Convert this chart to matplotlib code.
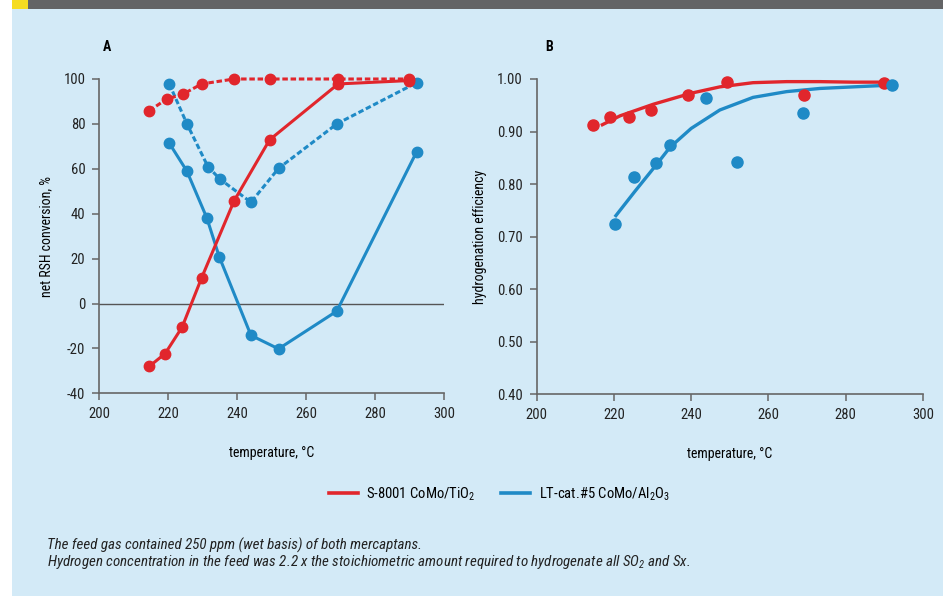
import matplotlib
matplotlib.use("Agg")
import matplotlib.pyplot as plt
from matplotlib import font_manager
from matplotlib.lines import Line2D
from matplotlib.patches import Rectangle

# prefer a narrow sans if one is installed
installed = {f.name for f in font_manager.fontManager.ttflist}
family = 'Liberation Sans'
for cand in ['Liberation Sans Narrow', 'Roboto Condensed', 'Open Sans Condensed']:
    if cand in installed:
        family = cand
        break
narrow = family != 'Liberation Sans'
plt.rcParams['font.family'] = [family, 'DejaVu Sans']
plt.rcParams['mathtext.default'] = 'regular'
plt.rcParams['axes.unicode_minus'] = False

RED = '#e1262c'
BLUE = '#1f8ac6'
BG = '#d3eaf7'
AXC = '#666666'

# panel A: net RSH conversion, %
red_solid_t = [214.5, 219.1, 224.0, 229.7, 239.1, 249.4, 269.3, 289.8]
red_solid_v = [-28.0, -22.3, -10.6, 11.5, 45.7, 72.9, 97.8, 99.3]
red_dash_t = [214.5, 219.5, 224.2, 229.7, 239.1, 249.4, 269.3, 289.8]
red_dash_v = [85.9, 91.0, 93.2, 97.8, 100.0, 100.0, 100.0, 100.0]
blue_solid_t = [220.3, 225.4, 231.2, 234.8, 244.0, 252.0, 268.9, 292.1]
blue_solid_v = [71.4, 59.0, 38.1, 20.8, -14.2, -20.2, -3.4, 67.7]
blue_dash_t = [220.3, 225.4, 231.5, 235.0, 244.0, 252.0, 269.0, 292.1]
blue_dash_v = [97.8, 80.1, 61.0, 55.4, 45.1, 60.2, 80.1, 98.4]

# panel B: hydrogenation efficiency
red_pts_t = [214.5, 219.1, 223.9, 229.7, 239.1, 249.3, 269.2, 289.8]
red_pts_v = [0.913, 0.928, 0.927, 0.941, 0.969, 0.994, 0.969, 0.992]
blue_pts_t = [220.2, 225.2, 231.0, 234.4, 243.8, 251.8, 269.0, 292.1]
blue_pts_v = [0.725, 0.814, 0.840, 0.874, 0.964, 0.843, 0.935, 0.988]
# trend curves
red_fit_t = [217.0, 221.6, 230.2, 240.0, 247.4, 256.0, 264.7, 273.3, 281.9, 290.3]
red_fit_v = [0.913, 0.930, 0.952, 0.973, 0.985, 0.993, 0.995, 0.995, 0.994, 0.994]
blue_fit_t = [220.5, 225.4, 231.1, 234.5, 240.0, 247.4, 256.0, 264.7, 273.3, 281.9, 290.6]
blue_fit_v = [0.740, 0.786, 0.838, 0.870, 0.906, 0.941, 0.965, 0.976, 0.982, 0.985, 0.988]

fig = plt.figure(figsize=(9.43, 5.96), dpi=100)
fig.patch.set_facecolor('white')
fig.add_artist(Rectangle((12 / 943, 0), 1, 587 / 596, transform=fig.transFigure,
                         facecolor=BG, edgecolor='none', zorder=-10))
fig.add_artist(Rectangle((28 / 943, 587 / 596), 1, 9 / 596, transform=fig.transFigure,
                         facecolor='#636466', edgecolor='none', zorder=-10))
fig.add_artist(Rectangle((12 / 943, 587 / 596), 16 / 943, 9 / 596, transform=fig.transFigure,
                         facecolor='#f5dc22', edgecolor='none', zorder=-10))

tick_fs = 10.5 if narrow else 9.5
lab_fs = 10 if narrow else 9


def style_axes(ax):
    ax.set_facecolor('none')
    for s in ('top', 'right'):
        ax.spines[s].set_visible(False)
    for s in ('left', 'bottom'):
        ax.spines[s].set_color(AXC)
        ax.spines[s].set_linewidth(1.2)
    ax.tick_params(direction='out', length=5, width=1.1, color=AXC,
                   labelsize=tick_fs, labelcolor='#222222', pad=5)


lw = 2.2
ms = 7.5
dash = (0, (1.8, 0.9))

axA = fig.add_axes([99.3 / 943, 202.7 / 596, 344.7 / 943, 314.3 / 596])
style_axes(axA)
axA.axhline(0, color='#555555', lw=1.0, zorder=1)
axA.plot(red_dash_t, red_dash_v, color=RED, lw=lw, ls=dash, marker='o', ms=ms,
         zorder=3, clip_on=False)
axA.plot(red_solid_t, red_solid_v, color=RED, lw=lw, marker='o', ms=ms, zorder=3,
         clip_on=False)
axA.plot(blue_dash_t, blue_dash_v, color=BLUE, lw=lw, ls=dash, marker='o', ms=ms,
         zorder=2, clip_on=False)
axA.plot(blue_solid_t, blue_solid_v, color=BLUE, lw=lw, marker='o', ms=ms, zorder=2,
         clip_on=False)
axA.set_xlim(200, 300)
axA.set_ylim(-40, 100)
axA.set_xticks(range(200, 301, 20))
axA.set_yticks(range(-40, 101, 20))
axA.set_xlabel('temperature, °C', fontsize=lab_fs, labelpad=18)
axA.set_ylabel('net RSH conversion, %', fontsize=lab_fs, labelpad=7)
axA.text(107 / 943, 549 / 596, 'A', transform=fig.transFigure, fontsize=10,
         fontweight='bold', ha='center', va='center')

axB = fig.add_axes([536.7 / 943, 201.7 / 596, 386.3 / 943, 315.3 / 596])
style_axes(axB)
axB.plot(red_fit_t, red_fit_v, color=RED, lw=2.4, zorder=2)
axB.plot(blue_fit_t, blue_fit_v, color=BLUE, lw=2.4, zorder=2)
axB.plot(red_pts_t, red_pts_v, ls='none', marker='o', ms=8, color=RED, zorder=3,
         clip_on=False)
axB.plot(blue_pts_t, blue_pts_v, ls='none', marker='o', ms=8, color=BLUE, zorder=3,
         clip_on=False)
axB.set_xlim(200, 300)
axB.set_ylim(0.4, 1.0)
axB.set_xticks(range(200, 301, 20))
axB.set_yticks([0.4, 0.5, 0.6, 0.7, 0.8, 0.9, 1.0])
axB.set_yticklabels([f'{v:.2f}' for v in axB.get_yticks()])
axB.set_xlabel('temperature, °C', fontsize=lab_fs, labelpad=18)
axB.set_ylabel('hydrogenation efficiency', fontsize=lab_fs, labelpad=7)
axB.text(549 / 943, 549 / 596, 'B', transform=fig.transFigure, fontsize=10,
         fontweight='bold', ha='center', va='center')

handles = [Line2D([], [], color=RED, lw=2.6), Line2D([], [], color=BLUE, lw=2.6)]
fig.legend(handles, ['S-8001 CoMo/TiO$_2$', 'LT-cat.#5 CoMo/Al$_2$O$_3$'],
           loc='center', bbox_to_anchor=(499 / 943, 1 - 494 / 596), ncol=2,
           frameon=False, fontsize=tick_fs, handlelength=2.0, columnspacing=1.7,
           handletextpad=0.6)

note_fs = 10.8 if narrow else 8.3
fig.text(47 / 943, 1 - 545 / 596,
         'The feed gas contained 250 ppm (wet basis) of both mercaptans.',
         fontsize=note_fs, style='italic', va='center', color='#222222')
fig.text(47 / 943, 1 - 562 / 596,
         'Hydrogen concentration in the feed was 2.2 x the stoichiometric amount '
         'required to hydrogenate all SO$_2$ and Sx.',
         fontsize=note_fs, style='italic', va='center', color='#222222')

fig.savefig('out.png', dpi=100)
